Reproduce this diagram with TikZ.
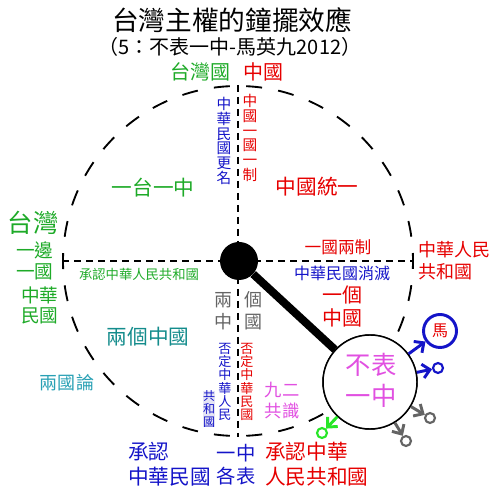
\documentclass[tikz,border=0pt]{standalone}
\usepackage{fontspec}
\newfontfamily\cjk{Noto Sans CJK TC}
\usetikzlibrary{arrows.meta}
\definecolor{cgreen}{RGB}{30,170,40}
\definecolor{cred}{RGB}{230,0,0}
\definecolor{cblue}{RGB}{20,20,200}
\definecolor{cteal}{RGB}{20,140,140}
\definecolor{ccyan}{RGB}{40,160,180}
\definecolor{cmag}{RGB}{225,80,225}
\definecolor{cgray}{RGB}{100,100,100}
\definecolor{cbright}{RGB}{40,230,40}
\definecolor{cpale}{RGB}{228,228,245}
\newcommand\myfs[2]{\fontsize{#1}{#2}\selectfont}
\tikzset{
  t/.style={inner sep=0pt, outer sep=0pt, text=#1},
  t/.default=black,
  vert/.style={align=center},
  arr/.style={line width=2.2pt, -{Straight Barb[length=5.5pt,width=10.5pt,line width=2.2pt]}},
  endc/.style={circle, draw=#1, line width=1.6pt, minimum size=7.5pt, inner sep=0pt, fill=white},
  thin dash/.style={line width=1.1pt, dash pattern=on 5.25pt off 3.75pt},
}
\begin{document}
\begin{tikzpicture}[x=0.75pt,y=-0.75pt]
\useasboundingbox (0,0) rectangle (500,498);
% framework
\coordinate (c) at (238,261);
\coordinate (top) at (238,85);
\coordinate (bot) at (238,437);
\coordinate (lft) at (62,261);
\coordinate (rgt) at (413,261);
\draw[line width=1.4pt, dash pattern=on 12pt off 12.26pt, dash phase=6pt] (c) circle[radius=131.25pt];
\draw[thin dash] (top) -- (bot);
\draw[thin dash] (lft) -- (rgt);

% title
\node[t, font=\cjk\myfs{20}{24}] (title) at (232,20) {台灣主權的鐘擺效應};
\node[t, font=\cjk\myfs{15}{18}] (sub) at (230,47) {（5：不表一中-馬英九2012）};

% top
\node[t=cgreen, font=\cjk\myfs{15}{18}] (twg) at (200,72) {台灣國};
\node[t=cred, font=\cjk\myfs{15}{18}] (zg) at (263,72) {中國};
\node[t=cblue, vert, font=\cjk\myfs{11}{11.1}] (rename) at (224,141) {中\\華\\民\\國\\更\\名};
\node[t=cred, vert, font=\cjk\myfs{11}{11.1}] (ocs) at (250,138) {中\\國\\一\\國\\一\\制};
\node[t=cgreen, font=\cjk\myfs{15.5}{18}] (otoc) at (153,188) {一台一中};
\node[t=cred, font=\cjk\myfs{15.5}{18}] (unify) at (317,187) {中國統一};

% left
\node[t=cgreen, font=\cjk\myfs{19}{22}] (tw) at (33,223) {台灣};
\node[t=cgreen, font=\cjk\myfs{14}{16}] (yb) at (35,250) {一邊};
\node[t=cgreen, font=\cjk\myfs{14}{16}] (yg1) at (35,272) {一國};
\node[t=cgreen, font=\cjk\myfs{14}{16}] (zh1) at (40,295) {中華};
\node[t=cgreen, font=\cjk\myfs{14}{16}] (mg1) at (40,316) {民國};
\node[t=cgreen, font=\cjk\myfs{10}{12}] (recprc) at (139,274) {承認中華人民共和國};

% right
\node[t=cred, font=\cjk\myfs{12.5}{15}] (yglz) at (338,247) {一國兩制};
\node[t=cblue, font=\cjk\myfs{12}{14}] (roce) at (342,273) {中華民國消滅};
\node[t=cred, font=\cjk\myfs{15}{18}] (yge) at (342,295) {一個};
\node[t=cred, font=\cjk\myfs{15}{18}] (zge) at (342,318) {中國};
\node[t=cred, font=\cjk\myfs{13.5}{16}, anchor=west] (prc1) at (418,250) {中華人民};
\node[t=cred, font=\cjk\myfs{13.5}{16}, anchor=west] (prc2) at (418,272) {共和國};

% lower middle
\node[t=cgray, font=\cjk\myfs{13.5}{16}] (g1) at (223,300) {兩};
\node[t=cgray, font=\cjk\myfs{13.5}{16}] (g2) at (223,322) {中};
\node[t=cgray, font=\cjk\myfs{13.5}{16}] (g3) at (253,300) {個};
\node[t=cgray, font=\cjk\myfs{13.5}{16}] (g4) at (253,322) {國};
\node[t=cteal, font=\cjk\myfs{15.5}{18}] (lgzg) at (148,337) {兩個中國};
\node[t=ccyan, font=\cjk\myfs{13.5}{16}] (lgl) at (67,383) {兩國論};
\node[t=cblue, vert, font=\cjk\myfs{9.8}{10}] (negprc) at (225,382) {否\\定\\中\\華\\人\\民};
\node[t=cblue, vert, fill=cpale, font=\cjk\myfs{9}{9.5}] (ghg) at (209,409) {共\\和\\國};
\node[t=cred, vert, font=\cjk\myfs{9.8}{10}] (negroc) at (247,382) {否\\定\\中\\華\\民\\國};
\node[t=cmag, font=\cjk\myfs{13}{15}] (je1) at (282,390) {九二};
\node[t=cmag, font=\cjk\myfs{13}{15}] (je2) at (282,411) {共識};

% bottom
\node[t=cblue, font=\cjk\myfs{15.5}{18}, anchor=west] (rr1) at (128,452) {承認};
\node[t=cblue, font=\cjk\myfs{15.5}{18}, anchor=west] (rr2) at (128,477) {中華民國};
\node[t=cblue, font=\cjk\myfs{14.5}{17}] (yz) at (236,453) {一中};
\node[t=cblue, font=\cjk\myfs{14.5}{17}] (gb) at (236,476) {各表};
\node[t=cred, font=\cjk\myfs{15.5}{18}, anchor=west] (rp1) at (265,452) {承認中華};
\node[t=cred, font=\cjk\myfs{15.5}{18}, anchor=west] (rp2) at (265,477) {人民共和國};

% pendulum
\node[circle, fill=black, minimum size=28.5pt, inner sep=0pt] (ball) at (239,261) {};
\node[circle, draw=black, line width=1.1pt, fill=white, minimum size=70.5pt, inner sep=0pt] (bob) at (370,382) {};
\draw[line width=6pt] (ball) -- (bob);
\node[circle, draw=black, line width=1.1pt, fill=white, minimum size=70.5pt, inner sep=0pt] at (bob) {};
\node[t=cmag, font=\cjk\myfs{19}{22}] (bt1) at (371,365) {不表};
\node[t=cmag, font=\cjk\myfs{19}{22}] (bt2) at (371,396) {一中};

% targets
\node[circle, draw=cblue, line width=2.2pt, minimum size=24.75pt, inner sep=0pt, text=cred, font=\cjk\myfs{12}{14}] (ma) at (440,331) {馬};
\node[endc=cblue] (b2) at (438,368) {};
\node[endc=cgray] (g1c) at (430,418) {};
\node[endc=cgray] (g2c) at (406,441) {};
\node[endc=cbright] (gc) at (322,433) {};
\draw[arr, cblue] (bob) -- (ma);
\draw[arr, cblue] (bob) -- (b2);
\draw[arr, cgray] (bob) -- (g1c);
\draw[arr, cgray] (bob) -- (g2c);
\draw[arr, cbright] (bob) -- (gc);
\end{tikzpicture}
\end{document}
